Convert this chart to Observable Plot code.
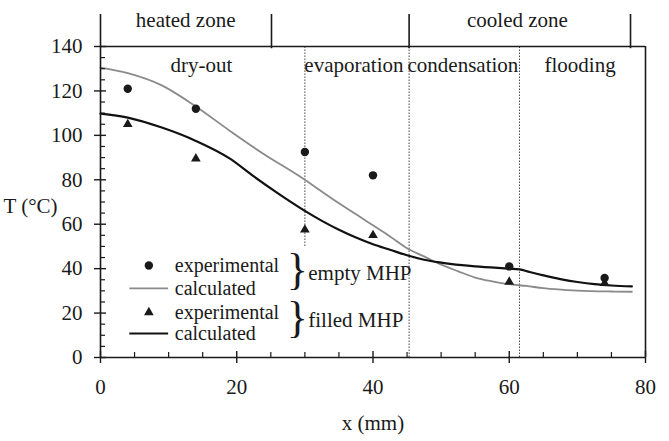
<!DOCTYPE html>
<html><head><meta charset="utf-8">
<script src="https://cdn.jsdelivr.net/npm/d3@7"></script>
<script src="https://cdn.jsdelivr.net/npm/@observablehq/plot@0.6"></script>
<style>
body{margin:0;background:#fff}
#chart svg, #chart svg text { font-family: "Liberation Serif", "DejaVu Serif", "Times New Roman", serif !important; }
</style>
</head><body><div id="chart"></div>
<script>
// ---- data ----
const xEmptyCalc = [0, 4, 9, 14, 19, 24, 29, 34, 39, 42.5, 45, 47.5, 50, 52.5, 55, 57.5, 60, 62.5, 65, 70, 75, 78];
const tEmptyCalc = [130.5, 128, 122.5, 113, 102, 91.5, 82, 71.5, 61.5, 54.5, 49.2, 45.5, 41.8, 38.8, 36, 34.3, 33, 32.2, 31.2, 30.1, 29.7, 29.6];
const xFilledCalc = [0, 4, 9, 14, 19, 22.5, 26, 30, 32.5, 35, 37.5, 40, 42.5, 45, 47.5, 50, 55, 60, 61.5, 63, 65, 67.5, 70, 72.5, 75, 78];
const tFilledCalc = [109.8, 108, 103.5, 97.5, 89.5, 81.5, 74, 66, 61.5, 57.5, 54, 51, 48.5, 46, 44, 42.7, 41, 40, 39.7, 38.5, 37, 35.3, 34, 33, 32.4, 32];
const xExp = [4, 14, 30, 40, 60, 74];
const tEmptyExp = [121, 112, 92.5, 82, 41, 35.8];
const tFilledExp = [105, 89.5, 57.5, 55, 34, 33.5];

const xMajor = [0, 20, 40, 60, 80];
const xMinor = [5, 10, 15, 25, 30, 35, 45, 50, 55, 65, 70, 75];
const yMajor = [0, 20, 40, 60, 80, 100, 120, 140];
const yMinor = [5, 10, 15, 25, 30, 35, 45, 50, 55, 65, 70, 75, 85, 90, 95, 105, 110, 115, 125, 130, 135];

const zoneNames = ["heated zone", "cooled zone"];
const zoneCenters = [12.5, 61.2];
const zoneBounds = [25.1, 45.3, 77.8];
const regionNames = ["dry-out", "evaporation", "condensation", "flooding"];
const regionCenters = [14.8, 37.2, 53.2, 70.4];
const regionBoundX = [30, 45.3, 61.5];
const regionBoundLow = [50, 0, 0];

const legendTexts = ["experimental", "calculated", "experimental", "calculated"];
const groupNames = ["empty MHP", "filled MHP"];

// ---- tables ----
const emptyCalc = xEmptyCalc.map((x, i) => ({x, t: tEmptyCalc[i]}));
const filledCalc = xFilledCalc.map((x, i) => ({x, t: tFilledCalc[i]}));
const emptyExp = xExp.map((x, i) => ({x, t: tEmptyExp[i]}));
const filledExp = xExp.map((x, i) => ({x, t: tFilledExp[i]}));
const bounds = regionBoundX.map((x, i) => ({x, low: regionBoundLow[i]}));

const ink = "#1a1a1a";
const font = "'Liberation Serif', 'DejaVu Serif', serif";
const FS = 21;
const LFS = 20;

// legend layout (in chart units)
const legY = [41.4, 31.1, 20.3, 10.8];
const legTextX = 10.9, legMarkX = 7.1;

const chart = Plot.plot({
  width: 669, height: 441,
  marginLeft: 100, marginRight: 24, marginTop: 46, marginBottom: 84,
  style: {fontFamily: font, fontSize: FS + "px", color: ink, background: "#fff"},
  x: {domain: [0, 80]},
  y: {domain: [0, 140]},
  marks: [
    // region dividers (dotted)
    Plot.ruleX(bounds, {x: "x", y1: "low", y2: 140, stroke: "#444", strokeWidth: 1, strokeDasharray: "1.5,1.5"}),
    // calculated curves
    Plot.line(emptyCalc, {x: "x", y: "t", stroke: "#8a8a8a", strokeWidth: 1.8, curve: "monotone-x"}),
    Plot.line(filledCalc, {x: "x", y: "t", stroke: "#111", strokeWidth: 2.2, curve: "monotone-x"}),
    // experimental points
    Plot.dot(filledExp, {x: "x", y: "t", symbol: "triangle", r: 3.6, fill: ink, stroke: "none"}),
    Plot.dot(emptyExp, {x: "x", y: "t", r: 4.2, fill: ink, stroke: "none"}),
    // frame
    Plot.ruleY([0, 140], {x1: 0, x2: 80, stroke: ink, strokeWidth: 1.6}),
    Plot.ruleX([0], {y1: 0, y2: 154.4, stroke: ink, strokeWidth: 1.6}),
    Plot.ruleX([80], {y1: 0, y2: 140, stroke: ink, strokeWidth: 1.6}),
    Plot.ruleX(zoneBounds, {y1: 139, y2: 154.4, stroke: ink, strokeWidth: 1.6}),
    // axes
    Plot.axisY({ticks: yMajor, tickSize: 6, tickPadding: 12, fontSize: FS, stroke: ink, strokeWidth: 1.4, label: null}),
    Plot.axisY({ticks: yMajor, tickSize: 6, dx: 6, tickFormat: () => "", stroke: ink, strokeWidth: 1.4, label: null}),
    Plot.axisY({ticks: yMinor, tickSize: 5, dx: 5, tickFormat: () => "", stroke: ink, strokeWidth: 1.2, label: null}),
    Plot.axisX({ticks: xMajor, tickSize: 6, tickPadding: 16, fontSize: FS, stroke: ink, strokeWidth: 1.4, label: null}),
    Plot.axisX({ticks: xMajor, tickSize: 6, dy: -6, tickFormat: () => "", stroke: ink, strokeWidth: 1.4, label: null}),
    Plot.axisX({ticks: xMinor, tickSize: 5, dy: -5, tickFormat: () => "", stroke: ink, strokeWidth: 1.2, label: null}),
    // axis titles
    Plot.text(["x (mm)"], {x: 40, frameAnchor: "bottom", dy: 72, fontSize: FS, fill: ink}),
    Plot.text(["T (°C)"], {x: 0, y: 68, dx: -70, fontSize: FS, fill: ink}),
    // zone and region labels
    Plot.text(zoneNames, {x: (d, i) => zoneCenters[i], y: 151.7, fontSize: FS, fill: ink}),
    Plot.text(regionNames, {x: (d, i) => regionCenters[i], y: 131.5, fontSize: FS, fill: ink}),
    // legend
    Plot.dot([0], {x: legMarkX, y: legY[0], r: 4.2, fill: ink}),
    Plot.ruleY([legY[1]], {x1: 4.3, x2: 10.0, stroke: "#8a8a8a", strokeWidth: 1.8}),
    Plot.dot([0], {x: legMarkX, y: legY[2], r: 3.6, symbol: "triangle", fill: ink}),
    Plot.ruleY([legY[3]], {x1: 4.3, x2: 10.0, stroke: "#111", strokeWidth: 2.2}),
    Plot.text(legendTexts, {x: legTextX, y: (d, i) => legY[i], textAnchor: "start", fontSize: LFS, fill: ink}),
    Plot.text(["}", "}"], {x: 28.9, y: (d, i) => [39.3, 17.7][i], fontSize: 44, fill: ink, ariaLabel: "brace"}),
    Plot.text(groupNames, {x: 30.5, y: (d, i) => [37.8, 16.7][i], textAnchor: "start", fontSize: FS, fill: ink})
  ]
});
document.getElementById("chart").appendChild(chart);

// thin the braces horizontally
chart.querySelectorAll('g[aria-label="brace"] text').forEach(t => {
  const tr = t.getAttribute("transform");
  if (tr && tr.startsWith("translate")) {
    t.setAttribute("transform", tr + " scale(0.55,1)");
  } else {
    const x = +t.getAttribute("x") || 0, y = +t.getAttribute("y") || 0;
    t.setAttribute("transform", `translate(${x},${y}) scale(0.55,1) translate(${-x},${-y})`);
  }
});
</script>
</body></html>
